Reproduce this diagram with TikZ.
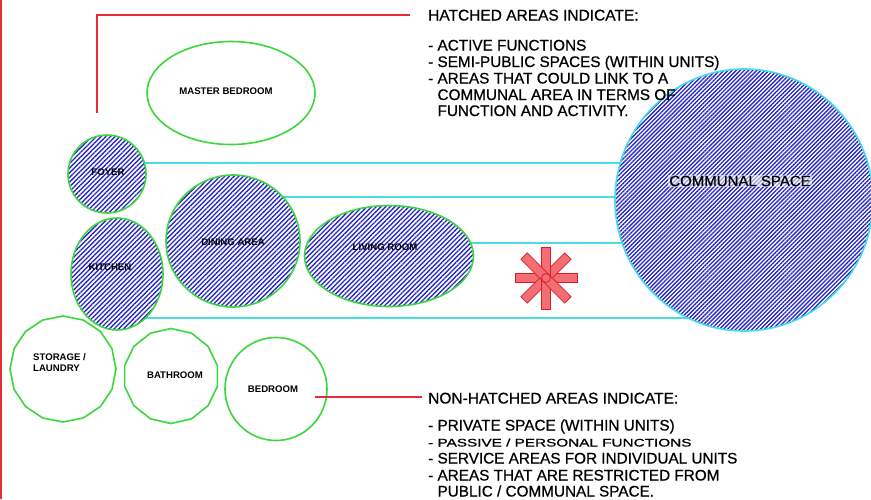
\documentclass[tikz,border=0pt]{standalone}
\usepackage{graphicx}
\usepackage{fontspec}
\setmainfont{Liberation Sans}
\newfontfamily\notefont{Liberation Sans}[FakeBold=0.7]
\usetikzlibrary{shapes.geometric,patterns.meta,calc}
\definecolor{roomgreen}{RGB}{60,215,60}
\definecolor{linkcyan}{RGB}{70,222,228}
\definecolor{hatchblue}{RGB}{40,40,195}
\definecolor{leadred}{RGB}{228,45,55}
\definecolor{starred}{RGB}{242,110,115}
\definecolor{stardark}{RGB}{215,30,40}
\begin{document}
\begin{tikzpicture}[x=1pt,y=-1pt,
  room/.style={ellipse, draw=roomgreen, line width=1.6pt, fill=white, inner sep=0pt},
  polyroom/.style={regular polygon, draw=roomgreen, line width=1.6pt, fill=white, inner sep=0pt},
  hatched/.style={preaction={fill=white}, pattern={Lines[angle=45,distance=3.3pt,line width=1.35pt]}, pattern color=hatchblue},
  densehatched/.style={preaction={fill=white}, pattern={Lines[angle=45,distance=2.9pt,line width=1.35pt]}, pattern color=hatchblue},
  link/.style={draw=linkcyan, line width=1.5pt},
  leader/.style={draw=leadred, line width=1.4pt},
  rlabel/.style={inner sep=0pt, font=\fontsize{9.6}{10.5}\selectfont\bfseries},
  heading/.style={anchor=base west, inner sep=0pt, font=\notefont\fontsize{15.5}{16}\selectfont},
  item/.style={anchor=base west, inner sep=0pt, font=\notefont\fontsize{15.3}{16}\selectfont},
  starbar/.style={fill=starred, draw=stardark, line width=0.8pt}]
\useasboundingbox (0,0) rectangle (871,499);
\fill[white] (0,0) rectangle (871,499);
\draw[draw=leadred, line width=2pt] (1,0) -- (1,499);

% centres
\coordinate (cc) at (744,200);
\coordinate (fc) at (107,174);
\coordinate (dc) at (233,241);
\coordinate (lc) at (389,256);
\coordinate (kc) at (117,274);

% connectors (behind rooms)
\draw[link] ([yshift=11pt]fc) -- ([yshift=11pt]fc -| cc);
\draw[link] ([yshift=44pt]dc) -- ([yshift=44pt]dc -| cc);
\draw[link] ([yshift=13pt]lc) -- ([yshift=13pt]lc -| cc);
\draw[link] ([yshift=-44pt]kc) -- ([yshift=-44pt]kc -| cc);

% rooms
\node[room, densehatched, minimum width=258pt, minimum height=262pt, draw=linkcyan] (communal) at (cc) {};
\node[font=\notefont\fontsize{15}{16}\selectfont, inner sep=1pt, fill=white, fill opacity=0.55, text opacity=1] (communallbl) at (740,181) {COMMUNAL SPACE};

\node[room, minimum width=168pt, minimum height=103pt] (master) at (231,93) {};
\node[room, hatched, minimum width=78pt, minimum height=78pt] (foyer) at (fc) {};
\node[room, hatched, minimum width=92pt, minimum height=112pt] (kitchen) at (kc) {};
\node[room, hatched, minimum width=134pt, minimum height=132pt] (dining) at (dc) {};
\node[room, hatched, minimum width=169pt, minimum height=101pt] (living) at (lc) {};
\node[polyroom, regular polygon sides=16, shape border rotate=11.25, minimum size=106pt] (storage) at (63,369) {};
\node[polyroom, regular polygon sides=14, shape border rotate=12.857, minimum size=95pt] (bathroom) at (171,376) {};
\node[room, minimum width=102pt, minimum height=103pt] (bedroom) at (276,389) {};

% room labels
\node[rlabel] (masterlbl) at (226,91) {MASTER BEDROOM};
\node[rlabel] (foyerlbl) at (108,172) {FOYER};
\node[rlabel] (kitchenlbl) at (110,267) {KITCHEN};
\node[rlabel] (dininglbl) at (233,242) {DINING AREA};
\node[rlabel] (livinglbl) at (385,247) {LIVING ROOM};
\node[rlabel, anchor=west, align=left, font=\fontsize{9.6}{11}\selectfont\bfseries] (storagelbl) at (33,363) {STORAGE /\\LAUNDRY};
\node[rlabel] (bathroomlbl) at (175,375) {BATHROOM};
\node[rlabel] (bedroomlbl) at (273,389) {BEDROOM};

% asterisk
\begin{scope}[shift={(546,278)}]
  \foreach \a in {0,45,90,135}{
    \draw[starbar, rotate=\a] (-31,-4.5) rectangle (31,4.5);
  }
  \draw[draw=stardark, line width=0.8pt] (0,0) circle (4.5);
\end{scope}

% top notes
\node[heading] (hhead) at (428,20.5) {HATCHED AREAS INDICATE:};
\node[item] (h1) at (428,50.5) {- ACTIVE FUNCTIONS};
\node[item] (h2) at (428,67) {- SEMI-PUBLIC SPACES (WITHIN UNITS)};
\node[item] (h3) at (428,83.5) {- AREAS THAT COULD LINK TO A};
\node[item] (h4) at (428,100) {\phantom{- }COMMUNAL AREA IN TERMS OF};
\node[item] (h5) at (428,116) {\phantom{- }FUNCTION AND ACTIVITY.};
\coordinate (hstart) at (97,113);
\draw[leader] (hstart) |- ([xshift=-18pt]hhead.west);

% bottom notes
\node[heading] (nhead) at (428,403.5) {NON-HATCHED AREAS INDICATE:};
\node[item] (n1) at (428,430.5) {- PRIVATE SPACE (WITHIN UNITS)};
\node[item] (n2) at (428,446.5) {\scalebox{1}[0.72]{- PASSIVE / PERSONAL FUNCTIONS}};
\node[item] (n3) at (428,463.5) {- SERVICE AREAS FOR INDIVIDUAL UNITS};
\node[item] (n4) at (428,480.5) {- AREAS THAT ARE RESTRICTED FROM};
\node[item] (n5) at (428,496.5) {\phantom{- }PUBLIC / COMMUNAL SPACE.};
\coordinate (nstart) at (315,397);
\draw[leader] (nstart) -- ([xshift=-6pt]nstart -| nhead.west);
\end{tikzpicture}
\end{document}
